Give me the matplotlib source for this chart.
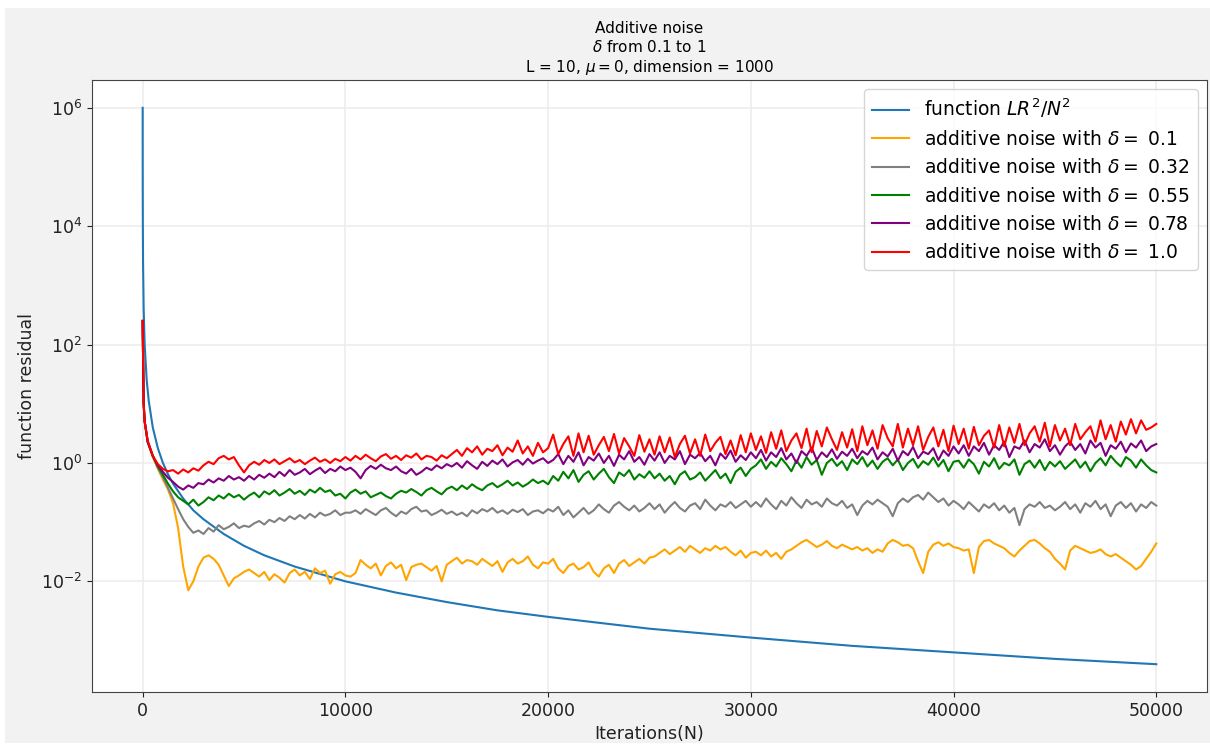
import matplotlib
matplotlib.use("Agg")
import matplotlib.pyplot as plt
from matplotlib.patches import Rectangle
from matplotlib.ticker import NullLocator
import numpy as np

# reference curve LR^2/N^2 (log10)
N_ref = [1, 2, 3, 5, 10, 20, 50, 100, 200, 300, 500, 750, 1000, 1250, 1500, 2000,
         2500, 3000, 4000, 5000, 6000, 7500, 10000, 12500, 15000, 17500, 20000,
         25000, 30000, 35000, 40000, 45000, 50000]
ref_log = [6.0, 5.40, 5.05, 4.60, 4.0, 3.40, 2.60, 2.0, 1.40, 1.05, 0.60, 0.25, 0.0,
           -0.19, -0.35, -0.60, -0.80, -0.95, -1.20, -1.40, -1.56, -1.75, -2.0,
           -2.19, -2.35, -2.49, -2.60, -2.80, -2.95, -3.09, -3.20, -3.31, -3.40]

# iterations where the noisy runs were read
N_noise = [0, 50, 100] + list(range(250, 50001, 250))
start_log = [2.4, 1.0, 0.7]

deltas = ["0.1", "0.32", "0.55", "0.78", "1.0"]
colors = ["orange", "gray", "green", "purple", "red"]

# log10 of the function residual, one value per 250 iterations after the start
orange_log = start_log + [
    0.35, 0.10, -0.10, -0.28, -0.45, -0.68, -1.10, -1.75, -2.15, -2.00,
    -1.75, -1.60, -1.56, -1.62, -1.72, -1.90, -2.08, -1.95, -1.90, -1.84,
    -1.80, -1.86, -1.92, -1.84, -1.98, -1.88, -1.94, -2.02, -1.86, -1.80,
    -1.90, -1.84, -1.96, -1.78, -1.86, -1.82, -2.04, -1.88, -1.84, -1.90,
    -1.92, -1.86, -1.64, -1.72, -1.78, -1.70, -1.90, -1.74, -1.68, -1.78,
    -1.72, -1.98, -1.76, -1.72, -1.70, -1.76, -1.82, -1.74, -2.00, -1.72,
    -1.66, -1.60, -1.70, -1.64, -1.66, -1.72, -1.62, -1.68, -1.74, -1.66,
    -1.84, -1.68, -1.62, -1.70, -1.66, -1.58, -1.72, -1.78, -1.68, -1.70,
    -1.62, -1.78, -1.86, -1.74, -1.70, -1.80, -1.76, -1.68, -1.84, -1.92,
    -1.78, -1.72, -1.86, -1.70, -1.64, -1.74, -1.68, -1.62, -1.70, -1.60,
    -1.58, -1.52, -1.46, -1.54, -1.48, -1.42, -1.50, -1.40, -1.46, -1.52,
    -1.44, -1.48, -1.40, -1.46, -1.42, -1.50, -1.56, -1.48, -1.60, -1.52,
    -1.50, -1.56, -1.48, -1.58, -1.52, -1.62, -1.50, -1.46, -1.40, -1.34,
    -1.30, -1.36, -1.42, -1.38, -1.32, -1.40, -1.44, -1.38, -1.42, -1.46,
    -1.42, -1.48, -1.44, -1.52, -1.46, -1.50, -1.36, -1.30, -1.34, -1.40,
    -1.38, -1.44, -1.66, -1.86, -1.50, -1.38, -1.34, -1.40, -1.36, -1.42,
    -1.44, -1.48, -1.46, -1.86, -1.42, -1.32, -1.30, -1.36, -1.40, -1.44,
    -1.52, -1.58, -1.48, -1.40, -1.32, -1.30, -1.36, -1.44, -1.50, -1.62,
    -1.70, -1.80, -1.48, -1.40, -1.44, -1.48, -1.52, -1.50, -1.46, -1.54,
    -1.58, -1.54, -1.60, -1.66, -1.72, -1.80, -1.74, -1.62, -1.50, -1.36,
]
gray_log = start_log + [
    0.35, 0.12, -0.08, -0.24, -0.42, -0.60, -0.78, -0.95, -1.08, -1.18,
    -1.14, -1.20, -1.10, -1.16, -1.05, -1.12, -1.08, -1.02, -1.10, -1.06,
    -1.08, -1.02, -0.98, -1.04, -0.96, -1.00, -0.93, -0.98, -0.90, -0.95,
    -0.88, -0.94, -0.86, -0.92, -0.84, -0.89, -0.86, -0.80, -0.88, -0.84,
    -0.84, -0.80, -0.86, -0.78, -0.83, -0.88, -0.80, -0.76, -0.84, -0.90,
    -0.82, -0.86, -0.78, -0.74, -0.82, -0.80, -0.88, -0.84, -0.79, -0.86,
    -0.82, -0.88, -0.84, -0.90, -0.80, -0.85, -0.78, -0.82, -0.76, -0.84,
    -0.80, -0.86, -0.79, -0.83, -0.78, -0.88, -0.82, -0.80, -0.85, -0.78,
    -0.82, -0.74, -0.88, -0.80, -0.92, -0.84, -0.76, -0.86, -0.80, -0.70,
    -0.78, -0.84, -0.72, -0.66, -0.74, -0.80, -0.72, -0.82, -0.76, -0.68,
    -0.78, -0.70, -0.84, -0.74, -0.66, -0.76, -0.82, -0.72, -0.68, -0.78,
    -0.62, -0.72, -0.80, -0.70, -0.74, -0.66, -0.76, -0.70, -0.64, -0.74,
    -0.66, -0.74, -0.60, -0.70, -0.78, -0.64, -0.72, -0.58, -0.68, -0.76,
    -0.62, -0.70, -0.66, -0.74, -0.60, -0.68, -0.72, -0.64, -0.76, -0.70,
    -0.88, -0.72, -0.64, -0.70, -0.62, -0.68, -0.74, -0.90, -0.68, -0.60,
    -0.66, -0.58, -0.54, -0.62, -0.50, -0.58, -0.66, -0.60, -0.72, -0.64,
    -0.70, -0.78, -0.66, -0.74, -0.82, -0.70, -0.76, -0.68, -0.80, -0.72,
    -0.84, -0.76, -1.05, -0.78, -0.70, -0.74, -0.66, -0.76, -0.72, -0.80,
    -0.74, -0.66, -0.78, -0.70, -0.84, -0.68, -0.74, -0.64, -0.78, -0.70,
    -0.90, -0.72, -0.66, -0.76, -0.68, -0.82, -0.70, -0.76, -0.66, -0.72,
]
green_log = start_log + [
    0.35, 0.12, -0.06, -0.20, -0.35, -0.48, -0.58, -0.64, -0.70, -0.62,
    -0.72, -0.66, -0.58, -0.63, -0.55, -0.60, -0.52, -0.58, -0.54, -0.62,
    -0.55, -0.50, -0.58, -0.48, -0.53, -0.46, -0.55, -0.50, -0.44, -0.52,
    -0.47, -0.54, -0.45, -0.50, -0.42, -0.49, -0.46, -0.55, -0.52, -0.60,
    -0.50, -0.45, -0.52, -0.48, -0.58, -0.54, -0.50, -0.56, -0.60, -0.52,
    -0.47, -0.50, -0.44, -0.49, -0.55, -0.46, -0.42, -0.48, -0.53, -0.44,
    -0.40, -0.46, -0.38, -0.44, -0.36, -0.42, -0.46, -0.38, -0.34, -0.41,
    -0.36, -0.30, -0.38, -0.33, -0.40, -0.35, -0.28, -0.34, -0.30, -0.36,
    -0.22, -0.30, -0.15, -0.26, -0.12, -0.32, -0.20, -0.14, -0.28, -0.18,
    -0.10, -0.24, -0.34, -0.16, -0.22, -0.12, -0.28, -0.19, -0.25, -0.14,
    -0.26, -0.18, -0.30, -0.22, -0.36, -0.20, -0.14, -0.28, -0.24, -0.16,
    -0.30, -0.21, -0.12, -0.26, -0.18, -0.34, -0.15, -0.08, -0.22, -0.10,
    -0.04, 0.06, -0.10, 0.02, -0.06, 0.08, -0.02, -0.14, 0.04, -0.08,
    0.10, -0.03, 0.05, -0.20, 0.00, 0.07, -0.05, 0.03, -0.12, 0.06,
    -0.02, 0.10, -0.06, 0.04, -0.10, 0.02, 0.08, -0.04, 0.06, -0.12,
    0.00, 0.07, -0.08, 0.03, -0.03, 0.09, -0.06, 0.05, -0.14, 0.02,
    0.04, -0.08, 0.06, -0.02, -0.18, 0.02, -0.06, 0.08, -0.10, 0.00,
    -0.04, 0.06, -0.20, -0.02, 0.04, -0.08, 0.05, -0.12, 0.02, -0.06,
    0.03, -0.10, -0.02, 0.06, -0.08, 0.02, -0.14, 0.00, 0.08, -0.04,
    0.12, 0.02, -0.06, 0.10, 0.04, -0.08, 0.06, -0.04, -0.12, -0.16,
]
purple_log = start_log + [
    0.36, 0.12, -0.04, -0.15, -0.25, -0.32, -0.40, -0.45, -0.38, -0.42,
    -0.34, -0.36, -0.28, -0.33, -0.26, -0.30, -0.22, -0.28, -0.24, -0.30,
    -0.22, -0.28, -0.20, -0.25, -0.18, -0.24, -0.15, -0.22, -0.12, -0.20,
    -0.16, -0.10, -0.19, -0.13, -0.08, -0.17, -0.10, -0.14, -0.06, -0.12,
    -0.08, -0.15, -0.26, -0.12, -0.05, -0.10, -0.03, -0.09, -0.12, -0.06,
    -0.14, -0.18, -0.10, -0.20, -0.15, -0.08, -0.12, -0.04, -0.09, -0.02,
    -0.06, 0.00, -0.08, 0.03, -0.04, -0.10, 0.02, -0.05, 0.04, -0.02,
    0.06, -0.06, 0.01, 0.05, -0.03, 0.07, -0.01, 0.04, 0.08, 0.00,
    0.05, 0.15, -0.02, 0.12, 0.02, 0.18, -0.04, 0.10, 0.04, 0.16,
    0.00, 0.12, -0.05, 0.14, 0.06, 0.20, 0.02, 0.10, -0.03, 0.15,
    0.04, 0.18, 0.00, 0.12, 0.06, 0.20, -0.02, 0.14, 0.08, 0.17,
    0.03, 0.12, -0.04, 0.16, 0.07, 0.21, 0.02, 0.13, 0.05, 0.18,
    0.08, 0.22, 0.04, 0.18, 0.10, 0.25, 0.06, 0.16, 0.00, 0.20,
    0.12, 0.26, 0.05, 0.18, 0.10, 0.23, 0.07, 0.19, 0.12, 0.24,
    0.08, 0.20, 0.14, 0.26, 0.06, 0.18, 0.11, 0.24, 0.04, 0.20,
    0.13, 0.27, 0.08, 0.19, 0.15, 0.25, 0.05, 0.21, 0.12, 0.28,
    0.16, 0.30, 0.12, 0.28, 0.20, 0.34, 0.14, 0.30, 0.22, 0.36,
    0.10, 0.28, 0.24, 0.38, 0.18, 0.32, 0.26, 0.40, 0.20, 0.30,
    0.14, 0.28, 0.36, 0.22, 0.32, 0.16, 0.38, 0.26, 0.34, 0.12,
    0.30, 0.24, 0.36, 0.18, 0.33, 0.26, 0.38, 0.20, 0.28, 0.32,
]
red_log = start_log + [
    0.38, 0.12, -0.02, -0.10, -0.14, -0.12, -0.18, -0.11, -0.16, -0.09,
    -0.13, -0.04, 0.02, -0.02, 0.08, 0.12, 0.06, 0.10, -0.04, -0.16,
    -0.04, 0.02, -0.03, 0.05, 0.00, 0.06, -0.02, 0.03, 0.08, 0.01,
    0.05, -0.02, 0.04, 0.09, 0.02, 0.06, 0.00, 0.07, 0.03, 0.10,
    0.04, 0.12, 0.06, 0.14, 0.08, 0.03, 0.11, 0.15, 0.07, 0.12,
    0.05, 0.13, 0.09, 0.16, 0.06, 0.12, 0.10, 0.04, 0.13, 0.08,
    0.15, 0.22, 0.12, 0.25, 0.18, 0.28, 0.14, 0.24, 0.20, 0.30,
    0.13, 0.26, 0.19, 0.38, 0.16, 0.28, 0.12, 0.34, 0.18, 0.25,
    0.48, 0.15, 0.32, 0.45, 0.12, 0.50, 0.18, 0.46, 0.14, 0.30,
    0.44, 0.20, 0.49, 0.16, 0.42, 0.28, 0.12, 0.47, 0.19, 0.40,
    0.14, 0.45, 0.18, 0.43, 0.10, 0.32, 0.46, 0.16, 0.40, 0.12,
    0.48, 0.20, 0.34, 0.44, 0.15, 0.38, 0.13, 0.47, 0.18, 0.50,
    0.22, 0.45, 0.17, 0.52, 0.24, 0.55, 0.20, 0.38, 0.50, 0.25,
    0.58, 0.18, 0.54, 0.28, 0.60, 0.40, 0.22, 0.52, 0.26, 0.57,
    0.20, 0.62, 0.30, 0.55, 0.24, 0.64, 0.42, 0.28, 0.66, 0.26,
    0.58, 0.30, 0.62, 0.22, 0.44, 0.60, 0.28, 0.56, 0.20, 0.63,
    0.32, 0.58, 0.24, 0.61, 0.30, 0.46, 0.55, 0.26, 0.64, 0.28,
    0.60, 0.34, 0.66, 0.30, 0.50, 0.62, 0.36, 0.68, 0.28, 0.64,
    0.38, 0.58, 0.30, 0.66, 0.40, 0.52, 0.62, 0.36, 0.72, 0.40,
    0.64, 0.36, 0.70, 0.48, 0.74, 0.50, 0.72, 0.56, 0.60, 0.66,
]
noise_logs = [orange_log, gray_log, green_log, purple_log, red_log]


def main():
    fig = plt.figure(figsize=(12.1, 7.45), dpi=100)
    fig.patch.set_facecolor("white")
    # notebook-style grey frame behind the plot
    fig.patches.append(Rectangle((5 / 1210, 2 / 745), 1205 / 1210, 735 / 745,
                                 transform=fig.transFigure, facecolor="#f2f2f2",
                                 edgecolor="none", zorder=-1))
    ax = fig.add_axes([0.076, 0.0711, 0.9215, 0.8215])

    ax.plot(N_ref, 10.0 ** np.array(ref_log), color="#1f77b4", lw=1.5,
            label=r"function $LR^2/N^2$")
    for d, c, vals in zip(deltas, colors, noise_logs):
        ax.plot(N_noise, 10.0 ** np.array(vals), color=c, lw=1.5,
                label=r"additive noise with $\delta = $ " + d)

    ax.set_yscale("log")
    ax.yaxis.set_minor_locator(NullLocator())
    ax.grid(True, color="#ededed", lw=1.2)
    ax.set_axisbelow(True)
    for s in ax.spines.values():
        s.set_color("#444444")

    ax.tick_params(labelsize=12.5, colors="#222222")
    ax.set_xlabel("Iterations(N)", fontsize=12.5, color="#222222")
    ax.set_ylabel("function residual", fontsize=12.5, color="#222222")
    ax.set_title("Additive noise\n" + r"$\delta$ from 0.1 to 1" + "\n"
                 + r"L = 10, $\mu=0$, dimension = 1000", fontsize=11)

    ax.legend(loc="upper right", fontsize=13.5)

    fig.savefig("out.png", dpi=100, facecolor=fig.get_facecolor())
    plt.close(fig)


if __name__ == "__main__":
    main()
